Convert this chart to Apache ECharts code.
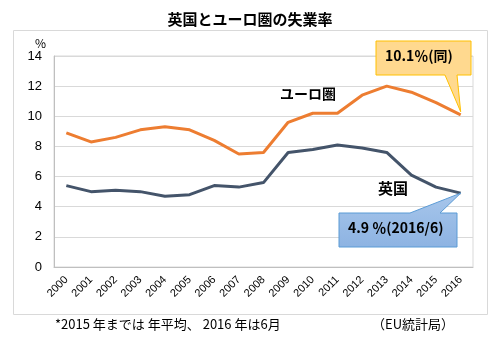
<!DOCTYPE html>
<html>
<head>
<meta charset="utf-8">
<script src="https://cdn.jsdelivr.net/npm/echarts@6/dist/echarts.min.js"></script>
<style>
  html, body { margin: 0; padding: 0; background: #fff; }
  #chart { width: 500px; height: 342px; }
</style>
</head>
<body>
<div id="chart"></div>
<script>
// Unemployment rate, % (annual averages; 2016 = June)
const years = ['2000','2001','2002','2003','2004','2005','2006','2007','2008',
               '2009','2010','2011','2012','2013','2014','2015','2016'];
const euroArea = [8.9, 8.3, 8.6, 9.1, 9.3, 9.1, 8.4, 7.5, 7.6, 9.6, 10.2, 10.2, 11.4, 12.0, 11.6, 10.9, 10.1];
const uk       = [5.4, 5.0, 5.1, 5.0, 4.7, 4.8, 5.4, 5.3, 5.6, 7.6, 7.8, 8.1, 7.9, 7.6, 6.1, 5.3, 4.9];
const yTicks = { min: 0, max: 14, interval: 2 };

const FONT = '"Noto Sans CJK JP", "Noto Sans", sans-serif';
const NUM_FONT = 'Arial, "Liberation Sans", sans-serif';
const chart = echarts.init(document.getElementById('chart'), null, { renderer: 'canvas' });

chart.setOption({
  animation: false,
  title: {
    text: '英国とユーロ圏の失業率',
    left: 'center', top: 7,
    textStyle: { fontFamily: FONT, fontSize: 15, fontWeight: 'bold', color: '#000' }
  },
  grid: {
    left: 54, right: 27, top: 56, bottom: 75,
    show: true, borderColor: '#d9d9d9', borderWidth: 1
  },
  xAxis: {
    type: 'category',
    data: years,
    boundaryGap: true,
    axisLine: { lineStyle: { color: '#bfbfbf' } },
    axisTick: { show: false },
    axisLabel: { rotate: 45, fontFamily: NUM_FONT, fontSize: 11, color: '#000', margin: 11 }
  },
  yAxis: {
    type: 'value',
    min: yTicks.min, max: yTicks.max, interval: yTicks.interval,
    name: '%', nameLocation: 'end', nameGap: 6,
    nameTextStyle: { fontFamily: FONT, fontSize: 12, color: '#000', align: 'right', padding: [0, 8, 0, 0] },
    axisLine: { show: true, lineStyle: { color: '#bfbfbf' } },
    axisTick: { show: false },
    axisLabel: { fontFamily: NUM_FONT, fontSize: 13, color: '#000', margin: 12 },
    splitLine: { lineStyle: { color: '#d9d9d9' } }
  },
  series: [
    {
      name: 'ユーロ圏', type: 'line', data: euroArea,
      symbol: 'none', lineStyle: { color: '#ED7D31', width: 3 }, itemStyle: { color: '#ED7D31' }
    },
    {
      name: '英国', type: 'line', data: uk,
      symbol: 'none', lineStyle: { color: '#44546A', width: 3 }, itemStyle: { color: '#44546A' }
    }
  ]
});

// Callouts and notes, anchored to the last data point of each series
const last = years.length - 1;
const pEU = chart.convertToPixel({ seriesIndex: 0 }, [last, euroArea[last]]);
const pUK = chart.convertToPixel({ seriesIndex: 1 }, [last, uk[last]]);

chart.setOption({
  graphic: [
    // outer frame
    { type: 'rect', shape: { x: 13.5, y: 30.5, width: 474, height: 284 }, silent: true,
      style: { fill: null, stroke: '#d9d9d9', lineWidth: 1 }, z: -10 },
    // orange callout
    { type: 'polygon', z: 100,
      shape: { points: [[376, 41], [471, 41], [471, 75], [457, 75], [pEU[0], pEU[1] - 3], [445, 75], [376, 75]] },
      style: { fill: '#FFD98F', stroke: '#FFC000', lineWidth: 1 } },
    { type: 'text', z: 101, left: 385, top: 49,
      style: { text: '10.1％(同)', fontFamily: FONT, fontSize: 14, fontWeight: 'bold', fill: '#000' } },
    // blue callout
    { type: 'polygon', z: 100,
      shape: { points: [[339, 213], [410, 213], [pUK[0], pUK[1]], [440, 213], [457, 213], [457, 247], [339, 247]] },
      style: {
        fill: new echarts.graphic.LinearGradient(0, 0, 0, 1, [
          { offset: 0, color: '#A7C6EB' }, { offset: 1, color: '#8DB3E2' }
        ]),
        stroke: '#5B9BD5', lineWidth: 1 } },
    { type: 'text', z: 101, left: 348, top: 221,
      style: { text: '4.9 ％(2016/6)', fontFamily: FONT, fontSize: 14, fontWeight: 'bold', fill: '#000' } },
    // series labels
    { type: 'text', left: 280, top: 87,
      style: { text: 'ユーロ圏', fontFamily: FONT, fontSize: 14, fontWeight: 'bold', fill: '#000' } },
    { type: 'text', left: 378, top: 181,
      style: { text: '英国', fontFamily: FONT, fontSize: 15, fontWeight: 'bold', fill: '#000' } },
    // notes
    { type: 'text', left: 55, top: 318,
      style: { text: '*2015 年までは 年平均、 2016 年は6月', fontFamily: FONT, fontSize: 13, fill: '#000' } },
    { type: 'text', left: 372, top: 318,
      style: { text: '（EU統計局）', fontFamily: FONT, fontSize: 13, fill: '#000' } }
  ]
});
</script>
</body>
</html>
